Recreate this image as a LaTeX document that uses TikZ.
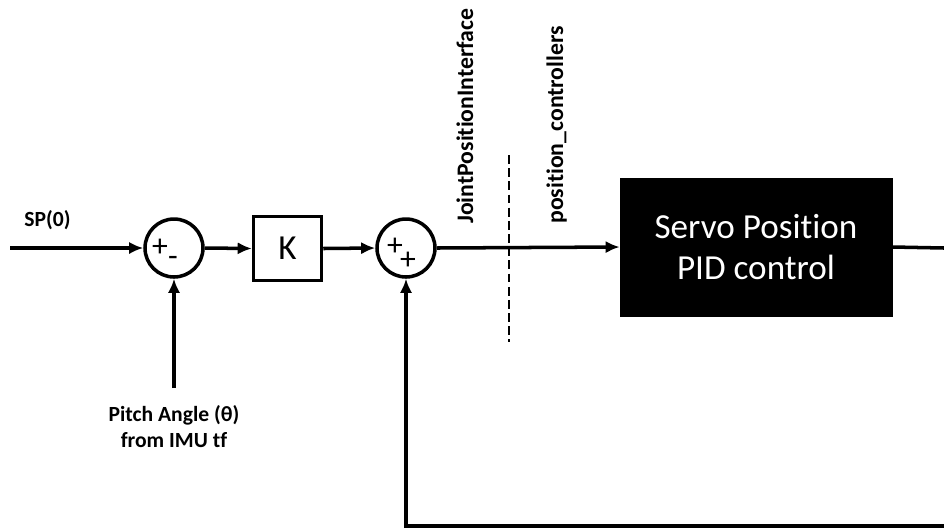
\documentclass[tikz,border=0pt]{standalone}
\usepackage{fontspec}
\setmainfont{Carlito}[RawFeature={-liga}]
\usetikzlibrary{positioning,arrows.meta}

\tikzset{
  wire/.style={line width=2pt},
  sumnode/.style={circle, draw, line width=2pt, minimum size=1.16cm, inner sep=0pt},
  gainbox/.style={draw, line width=2pt, minimum width=1.36cm, minimum height=1.28cm, inner sep=0pt, font=\fontsize{20}{24}\selectfont},
  plantbox/.style={fill=black, draw=black, minimum width=5.44cm, minimum height=2.76cm, align=center, text=white, font=\fontsize{20}{23}\selectfont},
  sig/.style={font=\bfseries\fontsize{12.3}{14.7}\selectfont, align=center},
  vsig/.style={font=\bfseries\fontsize{13.5}{16}\selectfont, rotate=90, anchor=base west, inner sep=0pt},
  sgn/.style={font=\fontsize{18}{18}\selectfont, inner sep=0pt}
}

\begin{document}
\begin{tikzpicture}[>={Latex[length=8pt,width=7pt]}, x=0.02cm, y=-0.02cm]
    \useasboundingbox (0,0) rectangle (944,529);
    % blocks
    \node[sumnode] (sumA) at (174,248) {};
    \node[sgn] (sumAp) at (160,247.5) {+};
    \node[sgn] (sumAm) at (173,261) {-};
    \node[gainbox] (gainK) at (287.5,248.5) {K};
    \node[sumnode] (sumB) at (406,248) {};
    \node[sgn] (sumBp) at (395,247) {+};
    \node[sgn] (sumBq) at (408,261) {+};
    \node[plantbox] (servo) at (756,247) {Servo Position\\PID control};
    % free ends
    \coordinate (spIn) at (10,248);
    \coordinate (outR) at (944,248);
    \coordinate (pitchIn) at (174,388);
    \coordinate (fbR) at (944,526);
    \coordinate (dashTop) at (509,155);
    \coordinate (dashBot) at (509,342);
    % signals
    \draw[wire,->] (spIn) -- (sumA.west);
    \draw[wire,->] (sumA.east) -- (gainK.west);
    \draw[wire,->] (gainK.east) -- (sumB.west);
    \draw[wire,->] (sumB.east) -- (servo.west);
    \draw[wire] (servo.east) -- (outR);
    \draw[wire,->] (pitchIn) -- (sumA.south);
    \draw[wire,->] (fbR) -| (sumB.south);
    \draw[line width=1.1pt, dash pattern=on 5pt off 2.5pt] (dashTop) -- (dashBot);
    % labels
    \node[sig, anchor=base west, inner sep=0pt] (spLbl) at (24,226) {SP(0)};
    \node[sig, below=0.22cm of pitchIn, anchor=north] (pitchLbl) {Pitch Angle (θ)\\from IMU tf};
    \node[vsig] (jpiLbl) at (473,224) {JointPositionInterface};
    \node[vsig] (pcLbl) at (563,224) {position\_controllers};
\end{tikzpicture}
\end{document}
